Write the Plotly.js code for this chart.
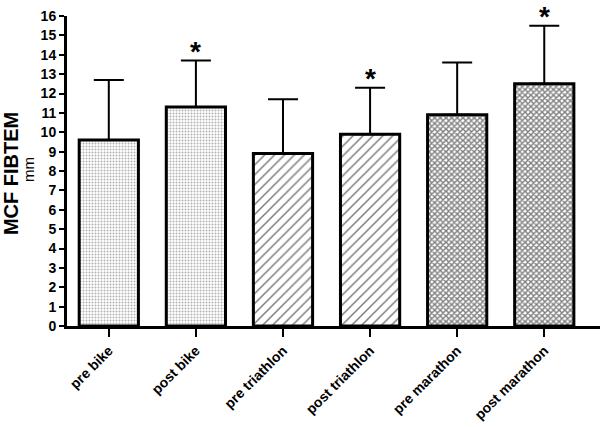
<!DOCTYPE html>
<html>
<head>
<meta charset="utf-8">
<script src="https://cdn.plot.ly/plotly-3.0.1.min.js"></script>
<style>
  body { margin: 0; background: #fff; }
  #chart { width: 600px; height: 427px; }
</style>
</head>
<body>
<div id="chart"></div>
<script>
// groups and values
var groups = ["pre bike", "post bike", "pre triathlon", "post triathlon", "pre marathon", "post marathon"];
var meanMcf = [9.6, 11.3, 8.9, 9.9, 10.9, 12.5];
var sdMcf = [3.1, 2.4, 2.8, 2.4, 2.7, 3.0];
var significant = [false, true, false, true, false, true];
var yTicks = [0, 1, 2, 3, 4, 5, 6, 7, 8, 9, 10, 11, 12, 13, 14, 15, 16];

// fill pattern per bar (bike = fine dots, triathlon = hatch, marathon = dense cross)
var patShapes = [".", ".", "/", "/", "x", "x"];
var patSizes = [3, 3, 7, 7, 4, 4];
var patSolid = [0.35, 0.35, 0.22, 0.22, 0.6, 0.6];
var patColors = ["#666", "#666", "#000", "#000", "#000", "#000"];

var bars = {
  type: "bar",
  x: groups,
  y: meanMcf,
  width: 0.68,
  marker: {
    color: "#fff",
    line: { color: "#000", width: 3 },
    pattern: {
      shape: patShapes,
      size: patSizes,
      solidity: patSolid,
      fgcolor: patColors,
      bgcolor: "#fff",
      fillmode: "overlay"
    }
  },
  error_y: {
    type: "data",
    symmetric: false,
    array: sdMcf,
    arrayminus: groups.map(function () { return 0; }),
    color: "#000",
    thickness: 2,
    width: 15
  },
  hoverinfo: "x+y"
};

var notes = [];
// stars above the significant groups
for (var i = 0; i < groups.length; i++) {
  if (significant[i]) {
    notes.push({
      x: groups[i],
      y: meanMcf[i] + sdMcf[i],
      text: "<b>*</b>",
      showarrow: false,
      yanchor: "bottom",
      yshift: -7,
      borderpad: 0,
      font: { size: 28, color: "#000" }
    });
  }
}
// y axis title, two lines of different size
notes.push({
  xref: "paper", yref: "paper", x: 0, y: 0.49,
  xshift: -56, xanchor: "center", yanchor: "middle",
  textangle: -90, showarrow: false,
  text: "<b>MCF FIBTEM</b>",
  font: { size: 20, color: "#000" }
});
notes.push({
  xref: "paper", yref: "paper", x: 0, y: 0.503,
  xshift: -39, xanchor: "center", yanchor: "middle",
  textangle: -90, showarrow: false,
  text: "mm",
  font: { size: 15, color: "#000" }
});

var layout = {
  width: 600,
  height: 427,
  margin: { l: 67, r: 0, t: 16, b: 101 },
  paper_bgcolor: "#fff",
  plot_bgcolor: "#fff",
  showlegend: false,
  font: { family: "Liberation Sans, Arial, sans-serif", color: "#000" },
  annotations: notes,
  xaxis: {
    range: [-0.48, 5.64],
    showline: true,
    linecolor: "#000",
    linewidth: 3,
    ticks: "outside",
    ticklen: 8,
    tickwidth: 2,
    tickcolor: "#000",
    tickangle: -45,
    tickfont: { size: 14, weight: "bold" },
    showgrid: false,
    zeroline: false
  },
  yaxis: {
    range: [0, 16],
    tickvals: yTicks,
    ticktext: yTicks.map(String),
    showline: true,
    linecolor: "#000",
    linewidth: 3,
    ticks: "outside",
    ticklen: 5,
    tickwidth: 2,
    tickcolor: "#000",
    tickfont: { size: 14, weight: "bold" },
    showgrid: false,
    zeroline: false
  }
};

Plotly.newPlot("chart", [bars], layout, { displayModeBar: false, staticPlot: true });
</script>
</body>
</html>
